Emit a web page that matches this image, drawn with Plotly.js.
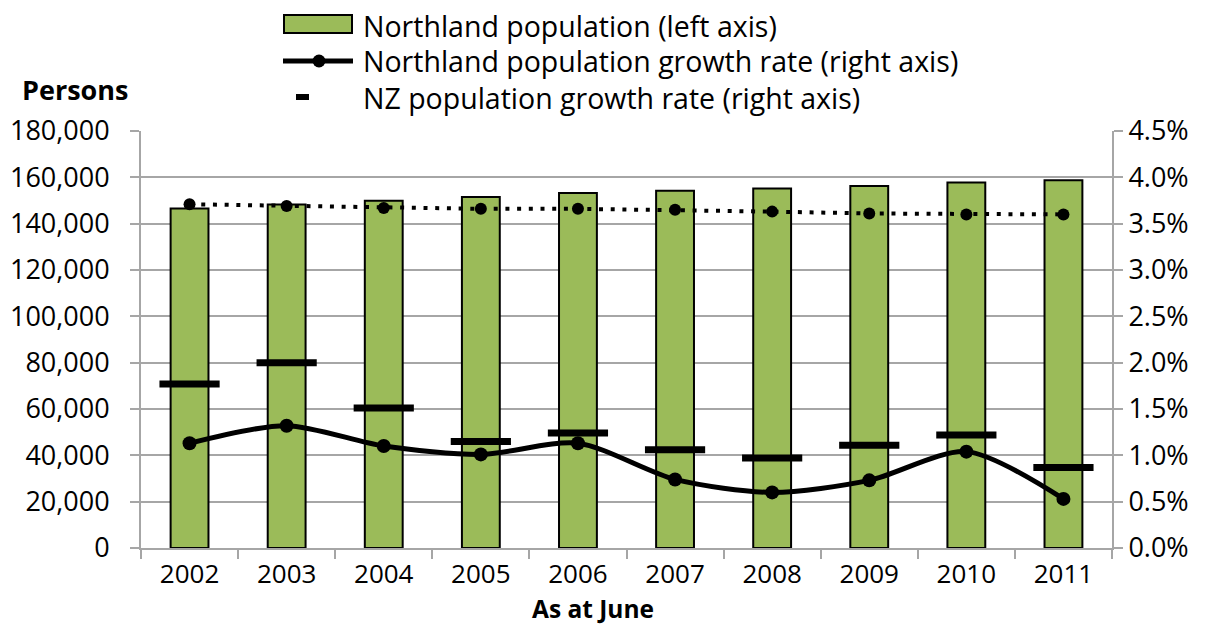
<!DOCTYPE html>
<html><head><meta charset="utf-8">
<script src="https://cdn.plot.ly/plotly-3.0.1.min.js"></script>
<style>html,body{margin:0;padding:0;background:#fff}#chart{width:1205px;height:626px}</style>
</head><body><div id="chart"></div>
<script>
const years = ['2002','2003','2004','2005','2006','2007','2008','2009','2010','2011'];
const northlandPop = [146600, 148300, 149900, 151500, 153200, 154200, 155200, 156300, 157800, 158700];
const northlandGrowth = [0.0113, 0.0132, 0.0110, 0.0101, 0.0113, 0.0074, 0.0060, 0.0073, 0.0104, 0.0053];
const nzGrowth = [0.0177, 0.0200, 0.0151, 0.0115, 0.0124, 0.0106, 0.0097, 0.0111, 0.0122, 0.0087];
const dottedSeries = [0.0371, 0.0369, 0.0367, 0.0366, 0.0366, 0.0365, 0.0363, 0.0361, 0.0360, 0.0360];
const legendLabels = ['Northland population (left axis)',
  'Northland population growth rate (right axis)',
  'NZ population growth rate (right axis)'];

const FONT = 'Open Sans, Noto Sans, sans-serif';
const GRID = '#a6a6a6';
const GREEN = '#9BBB59';

// plot area in pixels (for legend placement helpers)
const PL = 141, PR = 1112, PT = 131, PB = 548;
const px = v => (v - PL) / (PR - PL);
const py = v => (PB - v) / (PB - PT);

const traces = [
  {type:'bar', x:years, y:northlandPop, name:legendLabels[0], showlegend:false,
   marker:{color:GREEN, line:{color:'#000', width:2}}, width:0.39},
  {type:'scatter', mode:'lines+markers', x:years, y:northlandGrowth, yaxis:'y2',
   name:legendLabels[1], showlegend:false,
   line:{color:'#000', width:5, shape:'spline', smoothing:0.8},
   marker:{color:'#000', size:14, symbol:'circle'}},
  {type:'scatter', mode:'markers', x:years, y:nzGrowth, yaxis:'y2',
   name:legendLabels[2], showlegend:false,
   marker:{symbol:'line-ew', size:43, line:{color:'#000', width:7}, color:'#000'}},
  {type:'scatter', mode:'lines+markers', x:years, y:dottedSeries, yaxis:'y2',
   showlegend:false, line:{color:'#000', width:4, dash:'4px,7.7px'},
   marker:{color:'#000', size:12}}
];

const rowY = [24, 59, 96];
const legendShapes = [
  {type:'rect', xref:'paper', yref:'paper', x0:px(284), x1:px(352), y0:py(33), y1:py(15),
   fillcolor:GREEN, line:{color:'#000', width:2}},
  {type:'line', xref:'paper', yref:'paper', x0:px(283), x1:px(353), y0:py(61), y1:py(61),
   line:{color:'#000', width:5}},
  {type:'circle', xref:'paper', yref:'paper', x0:px(312.5), x1:px(325.5), y0:py(67.5), y1:py(54.5),
   fillcolor:'#000', line:{color:'#000', width:0}},
  {type:'rect', xref:'paper', yref:'paper', x0:px(296), x1:px(309), y0:py(100), y1:py(94),
   fillcolor:'#000', line:{color:'#000', width:0}}
];
const legendAnn = legendLabels.map((t, i) => ({
  text:t, xref:'paper', yref:'paper', x:px(361), y:py(rowY[i]+2), xanchor:'left', yanchor:'middle',
  showarrow:false, font:{family:FONT, size:28.5, color:'#000'}
}));

const layout = {
  width:1205, height:626,
  margin:{l:PL, r:1205-PR, t:PT, b:626-PB},
  paper_bgcolor:'#fff', plot_bgcolor:'#fff',
  font:{family:FONT, size:27, color:'#000'},
  showlegend:false,
  xaxis:{type:'category', range:[-0.5, 9.5], showgrid:false, showline:true, linecolor:GRID, linewidth:2,
    ticks:'outside', tickson:'boundaries', ticklen:9, tickcolor:GRID, tickwidth:2,
    ticklabelstandoff:2, tickfont:{family:FONT, size:26}},
  yaxis:{range:[0,180000], dtick:20000, tickformat:',d', showgrid:true, gridcolor:GRID, gridwidth:2,
    showline:true, linecolor:GRID, linewidth:2, ticks:'outside', ticklen:9, tickcolor:GRID, tickwidth:2,
    zeroline:false, ticklabelstandoff:15, tickfont:{family:FONT, size:27}},
  yaxis2:{overlaying:'y', side:'right', range:[0,0.045], dtick:0.005, tickformat:'.1%', showgrid:false,
    showline:true, linecolor:GRID, linewidth:2, ticks:'outside', ticklen:9, tickcolor:GRID, tickwidth:2,
    zeroline:false, tickfont:{family:FONT, size:27}},
  shapes:legendShapes,
  annotations:[
    {text:'<b>Persons</b>', xref:'paper', yref:'paper', x:px(20), y:py(90), xanchor:'left', yanchor:'middle',
     showarrow:false, font:{family:FONT, size:27}},
    {text:'<b>As at June</b>', xref:'paper', yref:'paper', x:px(593), y:py(626), xanchor:'center', yanchor:'bottom',
     showarrow:false, borderpad:0, font:{family:FONT, size:24.5}}
  ].concat(legendAnn)
};

Plotly.newPlot('chart', traces, layout, {displayModeBar:false, staticPlot:true});
</script></body></html>
